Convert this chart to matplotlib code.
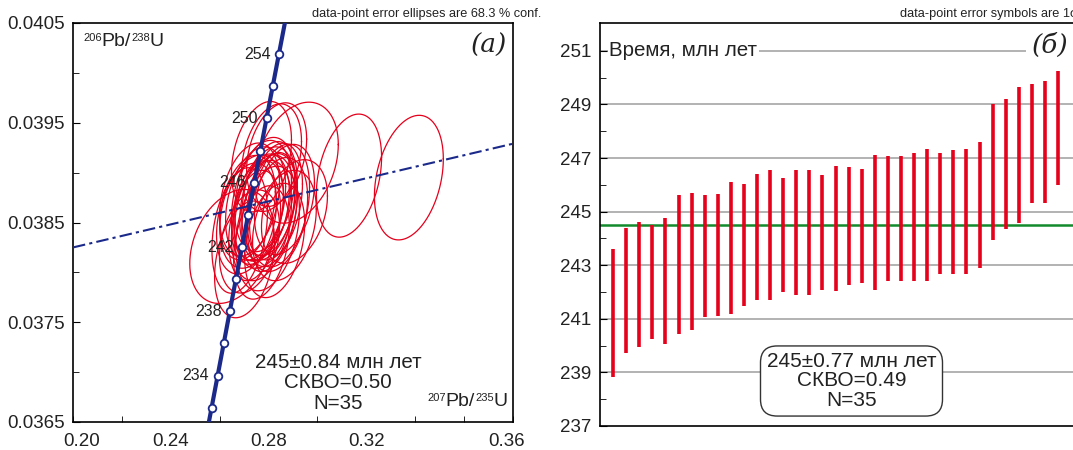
import numpy as np
import matplotlib.pyplot as plt
from matplotlib.ticker import MultipleLocator, FixedLocator

plt.rcParams['font.family'] = ['Liberation Sans', 'DejaVu Sans']

# --- panel (a): U-Pb concordia data ---
# 207Pb/235U, 1s; 206Pb/238U, 1s; error correlation
x75 = [0.2702, 0.2649, 0.2771, 0.2722, 0.2825, 0.2682, 0.2796, 0.2865, 0.2743,
       0.2771, 0.2710, 0.2837, 0.2804, 0.2755, 0.2784, 0.2731, 0.2906, 0.2812,
       0.2771, 0.2714, 0.2845, 0.2796, 0.2747, 0.2825, 0.2771, 0.2865, 0.2722,
       0.2804, 0.2784, 0.3129, 0.3374, 0.2914, 0.2812, 0.2771, 0.2833]
sx75 = [0.0081, 0.0113, 0.0075, 0.0081, 0.0081, 0.0075, 0.0086, 0.0086, 0.0070,
        0.0081, 0.0081, 0.0081, 0.0075, 0.0070, 0.0081, 0.0086, 0.0089, 0.0070,
        0.0075, 0.0075, 0.0081, 0.0075, 0.0081, 0.0075, 0.0081, 0.0081, 0.0081,
        0.0075, 0.0081, 0.0088, 0.0093, 0.0113, 0.0081, 0.0081, 0.0081]
y68 = [0.03813, 0.03826, 0.03830, 0.03831, 0.03832, 0.03842, 0.03844, 0.03847,
       0.03847, 0.03852, 0.03854, 0.03858, 0.03860, 0.03860, 0.03861, 0.03861,
       0.03861, 0.03863, 0.03865, 0.03865, 0.03867, 0.03869, 0.03869, 0.03871,
       0.03872, 0.03873, 0.03873, 0.03874, 0.03878, 0.03897, 0.03895, 0.03910,
       0.03915, 0.03916, 0.03918]
sy68 = [0.000386, 0.000377, 0.000375, 0.000341, 0.000378, 0.000415, 0.000412,
        0.000365, 0.000365, 0.000398, 0.000367, 0.000377, 0.000390, 0.000343,
        0.000375, 0.000375, 0.000343, 0.000377, 0.000354, 0.000345, 0.000406,
        0.000375, 0.000375, 0.000386, 0.000398, 0.000365, 0.000374, 0.000377,
        0.000378, 0.000407, 0.000412, 0.000400, 0.000356, 0.000365, 0.000343]
rho = [0.3] * 35

conc_ages = [232, 234, 236, 238, 240, 242, 244, 246, 248, 250, 252, 254]
conc_labels = [234, 238, 242, 246, 250, 254]
disc_x = [0.20, 0.38]
disc_y = [0.03825, 0.03929]

# --- panel (b): weighted mean ages, Ma ---
age_top = [243.62, 244.39, 244.61, 244.49, 244.77, 245.61, 245.71, 245.61, 245.64,
           246.10, 246.03, 246.39, 246.54, 246.25, 246.54, 246.54, 246.35, 246.70,
           246.66, 246.60, 247.10, 247.07, 247.07, 247.20, 247.35, 247.20, 247.29,
           247.35, 247.60, 249.00, 249.19, 249.65, 249.75, 249.87, 250.25]
age_bot = [238.83, 239.72, 239.95, 240.25, 240.07, 240.45, 240.59, 241.07, 241.10,
           241.17, 241.48, 241.71, 241.71, 242.00, 241.88, 241.88, 242.09, 242.02,
           242.27, 242.33, 242.06, 242.41, 242.41, 242.41, 242.41, 242.66, 242.66,
           242.68, 242.91, 243.95, 244.36, 244.59, 245.33, 245.33, 246.00]
mean_age = 244.49

L238 = 1.55125e-10
L235 = 9.8485e-10
navy = '#1b2a8a'
red = '#e5001c'
ink = '#222222'

fig = plt.figure(figsize=(10.73, 4.5), dpi=100)
W, H = 1073, 450


def ratio_label(ax, x, y, parts, **kw):
    # isotope ratio written as small-superscript / normal text pieces
    prev = None
    for txt, sup in parts:
        size = 8 if sup else 14
        if prev is None:
            prev = ax.text(x, y, txt, transform=ax.transAxes, fontsize=size,
                           va='top', color=ink, **kw)
        else:
            prev = ax.annotate(txt, xy=(1, 1), xycoords=prev, fontsize=size,
                               va='top', ha='left', color=ink)
    return prev


# ---------------- panel (a) ----------------
ax = fig.add_axes([73 / W, (H - 422) / H, (513 - 73) / W, (422 - 23) / H])
ax.set_xlim(0.20, 0.38)
ax.set_ylim(0.0365, 0.0405)

t = np.linspace(0, 2 * np.pi, 240)
k = np.sqrt(-2 * np.log(1 - 0.683))
for i in range(len(x75)):
    cov = np.array([[sx75[i] ** 2, rho[i] * sx75[i] * sy68[i]],
                    [rho[i] * sx75[i] * sy68[i], sy68[i] ** 2]])
    L = np.linalg.cholesky(cov)
    pts = k * L @ np.vstack([np.cos(t), np.sin(t)])
    ax.plot(x75[i] + pts[0], y68[i] + pts[1], color=red, lw=0.9, zorder=2)

ax.plot(disc_x, disc_y, color=navy, lw=1.5, ls=(0, (6, 2, 1.5, 2)), zorder=3)

tc = np.linspace(229, 258, 300) * 1e6
ax.plot(np.exp(L235 * tc) - 1, np.exp(L238 * tc) - 1, color=navy, lw=3, zorder=4)
ca = np.array(conc_ages) * 1e6
ax.plot(np.exp(L235 * ca) - 1, np.exp(L238 * ca) - 1, 'o', ms=5.5, mfc='white',
        mec=navy, mew=1.3, zorder=5)
for a in conc_labels:
    ax.annotate(str(a), (np.exp(L235 * a * 1e6) - 1, np.exp(L238 * a * 1e6) - 1),
                xytext=(-6, 0), textcoords='offset points', ha='right', va='center',
                fontsize=11.5, color=ink, zorder=6)

ax.xaxis.set_major_locator(FixedLocator([0.2035, 0.24, 0.28, 0.32, 0.3775]))
ax.set_xticklabels(['0.20', '0.24', '0.28', '0.32', '0.36'])
ax.xaxis.set_minor_locator(MultipleLocator(0.02))
ax.tick_params(axis='x', which='major', length=0, pad=8)
ax.tick_params(axis='x', which='minor', direction='in', length=4)
ax.yaxis.set_major_locator(FixedLocator([0.0365, 0.0375, 0.0385, 0.0395, 0.0405]))
ax.yaxis.set_major_formatter(plt.FuncFormatter(lambda v, p: f'{v:.4f}'))
ax.yaxis.set_minor_locator(FixedLocator([0.0370, 0.0380, 0.0390, 0.0400]))
ax.tick_params(axis='y', which='major', direction='in', length=5, pad=6)
ax.tick_params(axis='y', which='minor', direction='in', length=4)
ax.tick_params(labelsize=13.5, labelcolor=ink)
for s in ax.spines.values():
    s.set_linewidth(1.2)

ratio_label(ax, 0.023, 0.975, [('206', True), ('Pb/', False), ('238', True), ('U', False)])
ratio_label(ax, 0.805, 0.072, [('207', True), ('Pb/', False), ('235', True), ('U', False)])
ax.text(0.986, 0.945, '(a)', transform=ax.transAxes, fontsize=19, ha='right',
        va='center', family='DejaVu Serif', style='italic', color=ink)
ax.text(0.602, 0.098, '245±0.84 млн лет\nСКВО=0.50\nN=35', transform=ax.transAxes,
        fontsize=14.8, ha='center', va='center', linespacing=1.12, color=ink)
fig.text(312 / W, 1 - 14 / H, 'data-point error ellipses are 68.3 % conf.',
         fontsize=9.2, va='center', color=ink)

# ---------------- panel (b) ----------------
bx = fig.add_axes([600 / W, (H - 426) / H, (1110 - 600) / W, (426 - 23) / H])
n = np.arange(1, len(age_top) + 1)
bx.set_xlim(0, 38.97)
bx.set_ylim(237, 252.04)
for yv in range(239, 252, 2):
    bx.axhline(yv, color='#a6a6a6', lw=1.2, zorder=0)
bx.axhline(mean_age, color='#138a2c', lw=1.8, zorder=2)
bx.vlines(n, age_bot, age_top, color=red, lw=2.6, zorder=3)

bx.yaxis.set_major_locator(FixedLocator(range(237, 252, 2)))
bx.yaxis.set_minor_locator(FixedLocator(range(238, 252, 2)))
bx.tick_params(axis='y', which='major', direction='in', length=5, pad=6,
               labelsize=13.5, labelcolor=ink)
bx.tick_params(axis='y', which='minor', direction='in', length=4)
bx.set_xticks([])
for s in bx.spines.values():
    s.set_linewidth(1.2)

bx.text(0.018, 251, 'Время, млн лет', fontsize=14.8, va='center',
        transform=bx.get_yaxis_transform(), color=ink,
        bbox=dict(fc='white', ec='none', pad=1), zorder=4)
bx.text(1050 / W, 1 - 45 / H, '(б)', transform=fig.transFigure, fontsize=19,
        ha='center', va='center', family='DejaVu Serif', style='italic',
        color=ink, bbox=dict(fc='white', ec='none', pad=4), zorder=4)
bx.text(851.5 / W, 1 - 381 / H, '245±0.77 млн лет\nСКВО=0.49\nN=35',
        transform=fig.transFigure, fontsize=15, ha='center', va='center',
        linespacing=1.02, color=ink, zorder=5,
        bbox=dict(boxstyle='round,pad=0.3,rounding_size=0.8', fc='white',
                  ec='#333333', lw=1.0))
fig.text(900 / W, 1 - 14 / H, 'data-point error symbols are 1σ',
         fontsize=9.2, va='center', color=ink)

fig.savefig('out.png', dpi=100)
